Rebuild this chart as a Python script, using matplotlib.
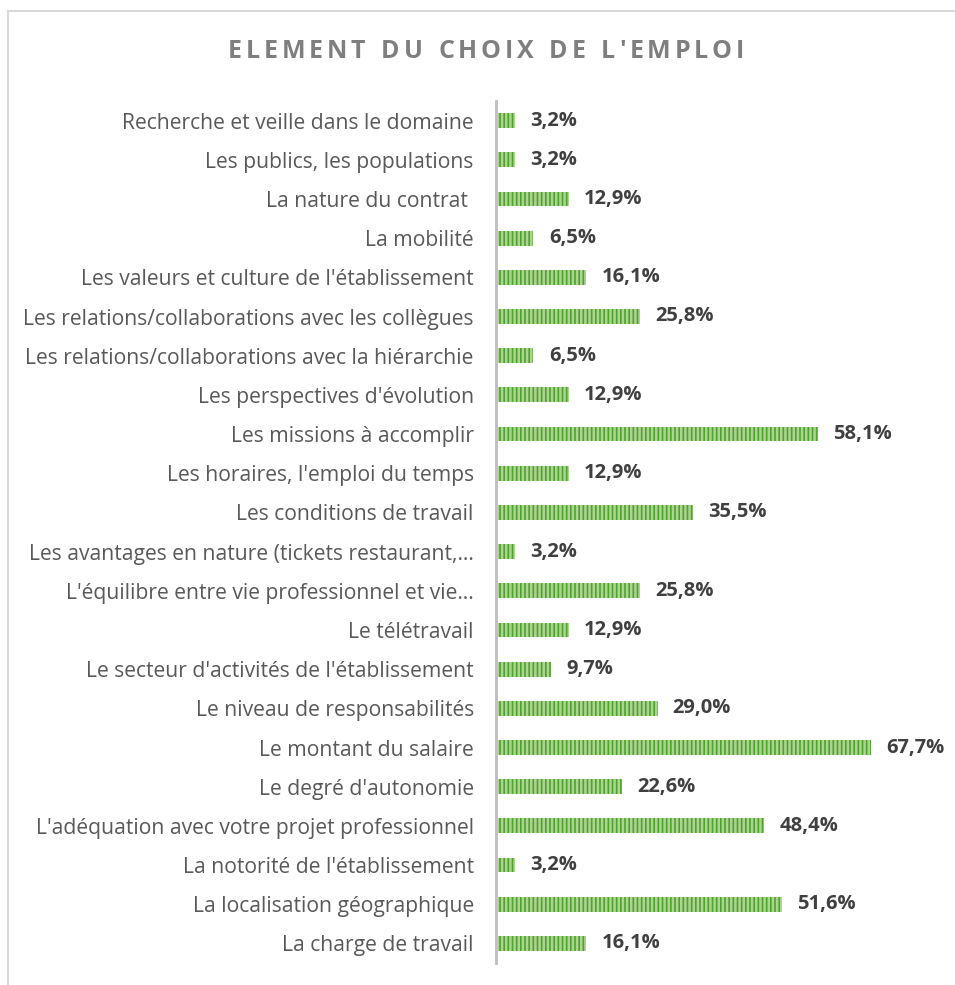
import matplotlib
matplotlib.use("Agg")
import matplotlib.pyplot as plt
from matplotlib.patches import Rectangle

# data, top to bottom as in the chart
labels = [
    "Recherche et veille dans le domaine",
    "Les publics, les populations",
    "La nature du contrat ",
    "La mobilité",
    "Les valeurs et culture de l'établissement",
    "Les relations/collaborations avec les collègues",
    "Les relations/collaborations avec la hiérarchie",
    "Les perspectives d'évolution",
    "Les missions à accomplir",
    "Les horaires, l'emploi du temps",
    "Les conditions de travail",
    "Les avantages en nature (tickets restaurant,…",
    "L'équilibre entre vie professionnel et vie…",
    "Le télétravail",
    "Le secteur d'activités de l'établissement",
    "Le niveau de responsabilités",
    "Le montant du salaire",
    "Le degré d'autonomie",
    "L'adéquation avec votre projet professionnel",
    "La notorité de l'établissement",
    "La localisation géographique",
    "La charge de travail",
]
values = [3.2, 3.2, 12.9, 6.5, 16.1, 25.8, 6.5, 12.9, 58.1, 12.9, 35.5,
          3.2, 25.8, 12.9, 9.7, 29.0, 67.7, 22.6, 48.4, 3.2, 51.6, 16.1]
title = "ELEMENT DU CHOIX DE L'EMPLOI"

plt.rcParams['font.family'] = ['Open Sans', 'DejaVu Sans']
plt.rcParams['hatch.linewidth'] = 1.8

W, H = 955, 985
fig = plt.figure(figsize=(W / 100, H / 100), dpi=100)

# outer frame (only left and top visible)
fig.add_artist(Rectangle((8 / W, -0.05), 1.1, 1 - 11 / H + 0.05,
                         transform=fig.transFigure, fill=False,
                         edgecolor='#d9d9d9', linewidth=1.5))

ax = fig.add_axes([496 / W, 22 / H, 441 / W, 862 / H])
pos = list(range(len(labels)))
ax.barh(pos, values, height=0.38, left=0.3, color='#4ea32c',
        edgecolor='#aed494', hatch='||||', linewidth=0)
ax.set_ylim(len(labels) - 0.5, -0.5)
ax.set_xlim(0, 80)

ax.set_yticks(pos)
ax.set_yticklabels(labels, fontsize=15.2, color='#595959')
ax.tick_params(axis='y', length=0, pad=16)
ax.set_xticks([])
for s in ['top', 'right', 'bottom']:
    ax.spines[s].set_visible(False)
ax.spines['left'].set_color('#bfbfbf')
ax.spines['left'].set_linewidth(2)

for p, v in zip(pos, values):
    ax.annotate(f"{v:.1f}%".replace('.', ','), (v + 0.3, p),
                xytext=(11, 0), textcoords='offset points',
                ha='left', va='center', fontsize=14.5,
                fontweight='bold', color='#404040')

# spaced-out title, placed letter by letter
renderer = fig.canvas.get_renderer()
widths = []
for ch in title:
    t = fig.text(0, 0, ch if ch != ' ' else 'n', fontsize=18,
                 fontweight='bold')
    w = t.get_window_extent(renderer).width
    widths.append(w * 0.5 if ch == ' ' else w)
    t.remove()
spacing = (516 - sum(widths)) / (len(title) - 1)
x = 228
for ch, w in zip(title, widths):
    fig.text(x / W, 1 - 52 / H, ch, fontsize=18, fontweight='bold',
             color='#7f7f7f', ha='left', va='center')
    x += w + spacing

fig.savefig("out.png", dpi=100)
